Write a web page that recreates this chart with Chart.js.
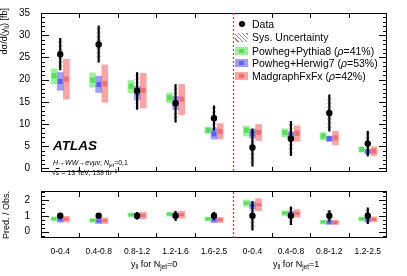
<!DOCTYPE html>
<html>
<head>
<meta charset="utf-8">
<script src="https://cdn.jsdelivr.net/npm/chart.js@4.4.1/dist/chart.umd.min.js"></script>
<style>
  html, body { margin: 0; padding: 0; background: #fff; }
  #wrap { position: relative; width: 407px; height: 276px; overflow: hidden;
          font-family: "Liberation Sans", Arial, Helvetica, sans-serif; color: #000; }
  canvas { position: absolute; left: 0; top: 0; }
  .t { position: absolute; white-space: nowrap; line-height: 1; }
  .t sub, .t sup { font-size: 70%; line-height: 0; }
  .t sub { vertical-align: -0.35em; }
  .t sup { vertical-align: 0.5em; }
  .vt { transform: rotate(-90deg); }
  .lg { position: absolute; left: 234px; height: 12px; font-size: 10.5px; line-height: 12px; white-space: nowrap; }
  .sw { position: absolute; left: 1px; top: 2px; width: 13px; height: 8px; }
  .sw i { position: absolute; left: 4px; top: 2px; width: 5px; height: 4px; }
  .lg span.txt { position: absolute; left: 18px; top: 0; }
</style>
</head>
<body>
<div id="wrap">
  <canvas id="main" width="407" height="276"></canvas>
  <canvas id="ratio" width="407" height="276"></canvas>

  <!-- legend -->
  <div class="lg" style="top:18px"><div style="position:absolute;left:5px;top:3px;width:6px;height:6px;border-radius:50%;background:#000"></div><span class="txt">Data</span></div>
  <div class="lg" style="top:31px"><div class="sw" style="height:9px;background:repeating-linear-gradient(45deg,#fff 0 2px,#888 2px 3px)"></div><span class="txt">Sys. Uncertainty</span></div>
  <div class="lg" style="top:44.5px"><div class="sw" style="background:rgba(0,220,0,0.4)"><i style="background:rgba(0,200,0,0.45)"></i></div><span class="txt">Powheg+Pythia8 (<i>ρ</i>=41%)</span></div>
  <div class="lg" style="top:57px"><div class="sw" style="background:rgba(0,0,255,0.38)"><i style="background:rgba(0,0,255,0.4)"></i></div><span class="txt">Powheg+Herwig7 (<i>ρ</i>=53%)</span></div>
  <div class="lg" style="top:70px"><div class="sw" style="background:rgba(255,0,0,0.36)"><i style="background:rgba(255,0,0,0.36)"></i></div><span class="txt">MadgraphFxFx (<i>ρ</i>=42%)</span></div>

  <!-- labels -->
  <div class="t" style="left:53px;top:139px;font-size:13.5px;font-weight:bold;font-style:italic;">ATLAS</div>
  <div class="t" style="left:53px;top:159px;font-size:7px;"><i>H</i>→<i>WW</i>→<i>eνμν</i>; <i>N</i><sub>jet</sub>=0,1</div>
  <div class="t" style="left:52px;top:168.5px;font-size:7px;">√<span style="text-decoration:overline">s</span> = 13 TeV, 139 fb<sup>−1</sup></div>

  <div class="t vt" style="left:-34px;top:42px;width:80px;height:12px;font-size:9px;text-align:right;">dσ/d(y<sub>ll</sub>) [fb]</div>
  <div class="t vt" style="left:-22px;top:209px;width:60px;height:12px;font-size:9px;text-align:center;">Pred. / Obs.</div>

  <div class="t" style="left:131px;top:260px;font-size:9px;">y<sub>ll</sub> for N<sub>jet</sub>=0</div>
  <div class="t" style="left:273px;top:260px;font-size:9px;">y<sub>ll</sub> for N<sub>jet</sub>=1</div>
</div>

<script>
// ---- bins (first 5: Njet=0, last 4: Njet=1) ----
const binLabels = ["0-0.4", "0.4-0.8", "0.8-1.2", "1.2-1.6", "1.6-2.5", "0-0.4", "0.4-0.8", "0.8-1.2", "1.2-2.5"];
const njetSplit = 5;

// ---- measured cross sections [fb] ----
const dataVal = [25.7, 27.9, 17.5, 14.7, 11.3, 4.7, 6.7, 12.5, 5.6];
const dataLo  = [22.2, 23.9, 13.3, 10.4, 8.6, 0.5, 2.9, 8.4, 2.8];
const dataHi  = [29.3, 32.1, 21.6, 18.9, 14.1, 8.9, 10.6, 16.6, 8.4];
const sysLo   = [22.5, 24.3, 13.7, 10.8, 8.9, 0.8, 3.3, 8.8, 3.1];
const sysHi   = [29.0, 31.7, 21.2, 18.5, 13.8, 8.6, 10.2, 16.2, 8.1];

// ---- predictions: central value and band ----
const pyCen = [20.9, 19.9, 18.5, 15.9, 8.6, 8.6, 8.1, 7.3, 4.3];
const pyLo  = [19.1, 18.3, 17.0, 14.8, 7.9, 7.3, 7.1, 6.4, 3.7];
const pyHi  = [22.4, 21.5, 19.8, 17.0, 9.3, 9.5, 8.9, 8.1, 4.8];
const hwCen = [19.6, 18.9, 16.9, 14.7, 7.8, 7.9, 7.6, 6.7, 3.8];
const hwLo  = [17.6, 17.1, 15.4, 13.3, 6.6, 6.9, 6.6, 6.1, 3.3];
const hwHi  = [21.6, 20.8, 18.5, 16.2, 9.1, 8.9, 8.3, 7.3, 4.3];
const mgCen = [20.1, 19.1, 17.6, 15.6, 8.3, 8.1, 7.9, 6.9, 3.9];
const mgLo  = [15.6, 14.9, 13.6, 12.1, 6.6, 6.3, 6.1, 5.3, 2.9];
const mgHi  = [24.6, 23.3, 21.4, 18.9, 10.1, 9.9, 9.6, 8.4, 4.9];

// ---- ratio panel (Pred. / Obs.) ----
const ratioData = [1, 1, 1, 1, 1, 1, 1, 1, 1];
const ratioLo   = [0.86, 0.86, 0.78, 0.70, 0.77, 0.10, 0.44, 0.66, 0.50];
const ratioHi   = [1.14, 1.15, 1.22, 1.29, 1.23, 1.90, 1.56, 1.33, 1.50];
const pyRatio   = [0.81, 0.71, 1.06, 1.10, 0.80, 1.80, 1.17, 0.60, 0.80];
const hwRatio   = [0.75, 0.67, 1.00, 1.04, 0.72, 1.65, 1.12, 0.58, 0.73];
const mgRatio   = [0.79, 0.69, 1.02, 1.07, 0.74, 1.70, 1.15, 0.58, 0.78];
const pyRatioErr = [0.12, 0.12, 0.12, 0.12, 0.12, 0.20, 0.15, 0.12, 0.12];
const hwRatioErr = [0.16, 0.16, 0.15, 0.15, 0.15, 0.22, 0.16, 0.13, 0.13];
const mgRatioErr = [0.18, 0.18, 0.20, 0.22, 0.16, 0.38, 0.24, 0.14, 0.16];

const yTicksMain  = [0, 5, 10, 15, 20, 25, 30, 35];
const yTicksRatio = [0, 1, 2];

const FONT = '"Liberation Sans", Arial, Helvetica, sans-serif';
const COL = {
  py: { band: "rgba(0,220,0,0.4)", cen: "rgba(0,200,0,0.45)", off: -0.16 },
  hw: { band: "rgba(0,0,255,0.38)", cen: "rgba(0,0,255,0.4)", off: 0 },
  mg: { band: "rgba(255,0,0,0.36)", cen: "rgba(255,0,0,0.36)", off: 0.16 },
};

/* sys hatch pattern: light grey back-slashes */
const hatch = (function () {
  const c = document.createElement("canvas");
  c.width = 4; c.height = 4;
  const g = c.getContext("2d");
  g.strokeStyle = "#a0a0a0"; g.lineWidth = 0.7;
  g.beginPath();
  g.moveTo(-1, -1); g.lineTo(5, 5);
  g.stroke();
  return g.createPattern(c, "repeat");
})();

const floating = (lo, hi, off, opts) => Object.assign({
  type: "bar",
  data: lo.map((l, i) => ({ x: i + off, y: [l, hi[i]] })),
  grouped: false,
  borderWidth: 0,
}, opts);

function modelSets(cen, lo, hi, c, cenHalf) {
  return [
    floating(lo, hi, c.off, { backgroundColor: c.band, barThickness: 6, order: 10 }),
    floating(cen.map(v => v - cenHalf), cen.map(v => v + cenHalf), c.off, { backgroundColor: c.cen, barThickness: 4, order: 9 }),
  ];
}

function dataSets(val, lo, hi, slo, shi) {
  return [
    floating(slo, shi, 0, { backgroundColor: hatch, barThickness: 4, order: 3 }),
    floating(lo, hi, 0, { backgroundColor: "#000", barThickness: 1.5, order: 2 }),
    {
      type: "scatter",
      data: val.map((v, i) => ({ x: i, y: v })),
      pointRadius: 3.2, pointStyle: "circle",
      backgroundColor: "#000", borderWidth: 0, order: 1,
    },
  ];
}

/* ROOT-like frame: inward ticks both sides, bin-edge ticks, Njet split line */
const rootFrame = {
  id: "rootFrame",
  afterDraw(chart, args, o) {
    const { ctx, chartArea: a } = chart;
    const x = chart.scales.x, y = chart.scales.y;
    ctx.save();
    ctx.strokeStyle = "#000";
    ctx.lineWidth = 1;
    const top = o.shiftTop ? a.top - 0.5 : a.top + 0.5;
    ctx.strokeRect(a.left + 0.5, top, a.right - a.left - 1, a.bottom - 0.5 - top);
    ctx.beginPath();
    const n0 = Math.ceil(y.min / o.minor - 1e-9), n1 = Math.floor(y.max / o.minor + 1e-9);
    for (let k = n0; k <= n1; k++) {
      const v = k * o.minor;
      const p = Math.round(y.getPixelForValue(v)) + 0.5;
      const major = y.ticks.some(t => Math.abs(t.value - v) < 1e-6);
      const L = major ? 8 : 4;
      ctx.moveTo(a.left, p); ctx.lineTo(a.left + L, p);
      ctx.moveTo(a.right, p); ctx.lineTo(a.right - L, p);
    }
    for (let i = 0; i < binLabels.length - 1; i++) {
      if (i === njetSplit - 1) continue;
      const p = Math.round(x.getPixelForValue(i + 0.5)) + 0.5;
      ctx.moveTo(p, a.top); ctx.lineTo(p, a.top + 5);
      ctx.moveTo(p, a.bottom); ctx.lineTo(p, a.bottom - 5);
    }
    ctx.stroke();
    // Njet=0 / Njet=1 separator
    const sx = Math.round(x.getPixelForValue(njetSplit - 0.5)) + 0.5;
    ctx.strokeStyle = "#dd3b3b";
    ctx.lineWidth = 1.3;
    ctx.setLineDash([2, 2]);
    ctx.beginPath();
    ctx.moveTo(sx, a.top); ctx.lineTo(sx, a.bottom);
    ctx.stroke();
    ctx.restore();
  },
};

function baseOptions(padding, yMin, yMax, yTicks, xShown) {
  return {
    responsive: false,
    animation: false,
    events: [],
    layout: { padding: padding },
    plugins: { legend: { display: false }, tooltip: { enabled: false } },
    scales: {
      x: {
        type: "linear", min: -0.5, max: 8.5, offset: false, display: xShown,
        grid: { display: false }, border: { display: false },
        afterBuildTicks: s => { s.ticks = binLabels.map((_, i) => ({ value: i })); },
        afterFit: s => { s.height = 20; },
        ticks: {
          autoSkip: false, maxRotation: 0, padding: 1, color: "#000",
          font: { family: FONT, size: 8.5 },
          callback: v => binLabels[v],
        },
      },
      y: {
        type: "linear", min: yMin, max: yMax,
        grid: { display: false }, border: { display: false },
        afterBuildTicks: s => { s.ticks = yTicks.map(v => ({ value: v })); },
        afterFit: s => { s.width = 41; },
        ticks: { padding: 3, color: "#000", font: { family: FONT, size: 10 } },
      },
    },
  };
}

const mainOpts = baseOptions({ top: 13, right: 20, bottom: 84, left: 0 }, -0.8, 35, yTicksMain, false);
mainOpts.plugins.rootFrame = { minor: 1, shiftTop: false };
new Chart(document.getElementById("main"), {
  type: "bar",
  data: {
    datasets: [].concat(
      modelSets(pyCen, pyLo, pyHi, COL.py, 0.5),
      modelSets(hwCen, hwLo, hwHi, COL.hw, 0.5),
      modelSets(mgCen, mgLo, mgHi, COL.mg, 0.5),
      dataSets(dataVal, dataLo, dataHi, sysLo, sysHi)
    ),
  },
  options: mainOpts,
  plugins: [rootFrame],
});

const ratioOpts = baseOptions({ top: 192, right: 20, bottom: 18, left: 0 }, -0.4, 2.5, yTicksRatio, true);
ratioOpts.plugins.rootFrame = { minor: 0.25, shiftTop: true };
new Chart(document.getElementById("ratio"), {
  type: "bar",
  data: {
    datasets: [].concat(
      modelSets(pyRatio, pyRatio.map((v, i) => v - pyRatioErr[i]), pyRatio.map((v, i) => v + pyRatioErr[i]), COL.py, 0.07),
      modelSets(hwRatio, hwRatio.map((v, i) => v - hwRatioErr[i]), hwRatio.map((v, i) => v + hwRatioErr[i]), COL.hw, 0.07),
      modelSets(mgRatio, mgRatio.map((v, i) => v - mgRatioErr[i]), mgRatio.map((v, i) => v + mgRatioErr[i]), COL.mg, 0.07),
      dataSets(ratioData, ratioLo, ratioHi, ratioLo, ratioHi)
    ),
  },
  options: ratioOpts,
  plugins: [rootFrame],
});
</script>
</body>
</html>
